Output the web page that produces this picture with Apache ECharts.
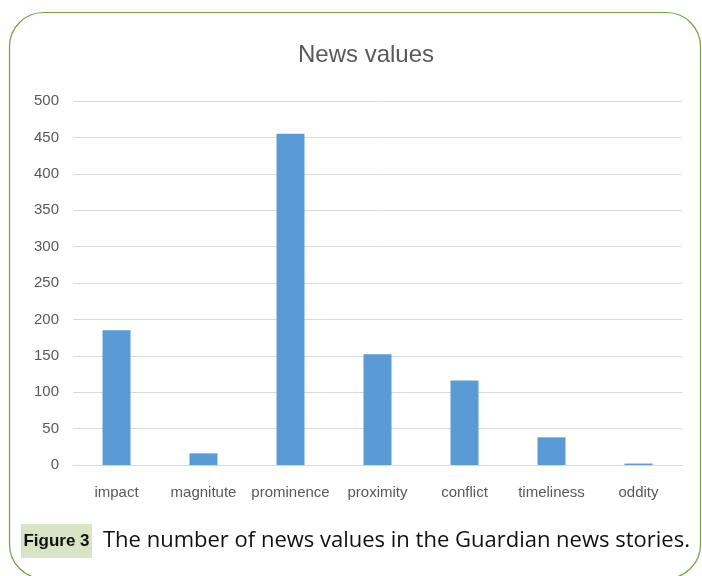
<!DOCTYPE html>
<html>
<head>
<meta charset="utf-8">
<script src="https://cdn.jsdelivr.net/npm/echarts@6/dist/echarts.min.js"></script>
<style>
  html, body { margin: 0; padding: 0; background: #ffffff; }
  #chart { width: 702px; height: 576px; }
</style>
</head>
<body>
<div id="chart"></div>
<script>
// News value categories and story counts
const categories = ['impact', 'magnitute', 'prominence', 'proximity', 'conflict', 'timeliness', 'oddity'];
const counts = [185, 16, 455, 152, 116, 38, 2];
const yTicks = { min: 0, max: 500, interval: 50 };

const chartTitle = 'News values';
const figureLabel = 'Figure 3';
const figureCaption = 'The number of news values in the Guardian news stories.';

const labelFont = '"Liberation Sans", Arial, sans-serif';
const captionFont = '"Open Sans", "Liberation Sans", sans-serif';
const textGrey = '#595959';

const chart = echarts.init(document.getElementById('chart'), null, { renderer: 'canvas' });

chart.setOption({
  animation: false,
  backgroundColor: '#ffffff',
  title: {
    text: chartTitle,
    left: 361,
    textAlign: 'center',
    top: 38,
    textStyle: { fontFamily: labelFont, fontSize: 24, fontWeight: 'normal', color: textGrey }
  },
  grid: { left: 73, right: 20, top: 101, bottom: 111, containLabel: false },
  xAxis: {
    type: 'category',
    data: categories,
    axisLine: { show: true, lineStyle: { color: '#d9d9d9', width: 1 } },
    axisTick: { show: false },
    axisLabel: { color: textGrey, fontFamily: labelFont, fontSize: 15, margin: 20, interval: 0 }
  },
  yAxis: {
    type: 'value',
    min: yTicks.min,
    max: yTicks.max,
    interval: yTicks.interval,
    axisLine: { show: false },
    axisTick: { show: false },
    axisLabel: { color: textGrey, fontFamily: labelFont, fontSize: 15, margin: 14 },
    splitLine: { lineStyle: { color: '#d9d9d9', width: 1 } }
  },
  series: [{
    type: 'bar',
    data: counts,
    barWidth: 28,
    itemStyle: { color: '#5b9bd5' }
  }],
  graphic: [
    {
      type: 'rect',
      shape: { x: 9.5, y: 12.5, width: 691, height: 566, r: 34 },
      style: { fill: 'none', stroke: '#6ea33f', lineWidth: 1.2 },
      z: 100
    },
    {
      type: 'rect',
      shape: { x: 21, y: 524, width: 71, height: 34 },
      style: { fill: '#d7e4c6' },
      z: 100
    },
    {
      type: 'text',
      x: 56.5, y: 541,
      style: {
        text: figureLabel, fill: '#111111', align: 'center', verticalAlign: 'middle',
        font: 'bold 17px ' + labelFont
      },
      z: 101
    },
    {
      type: 'text',
      x: 103, y: 541,
      style: {
        text: figureCaption, fill: '#111111', align: 'left', verticalAlign: 'middle',
        font: '22px ' + captionFont
      },
      z: 101
    }
  ]
});
</script>
</body>
</html>
